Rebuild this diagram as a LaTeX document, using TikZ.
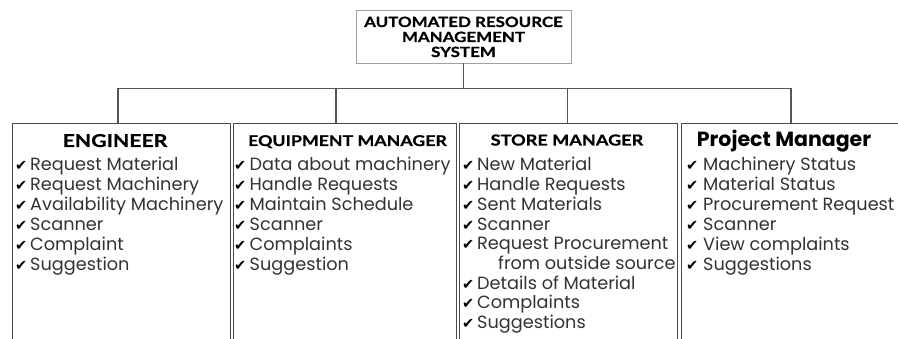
\documentclass[tikz,border=0pt]{standalone}
\usepackage{fontspec}
\setmainfont{Poppins}
\newfontfamily\headfont[FakeStretch=1.2, BoldFeatures={FakeBold=0.7}]{Lato}
\newfontfamily\symfont{DejaVu Sans}
\definecolor{linegray}{HTML}{555555}
\definecolor{boxgray}{HTML}{4A4A4A}
\definecolor{topgray}{HTML}{A0A0A0}
\definecolor{itemgray}{HTML}{333333}
\tikzset{
  panel/.style={draw=boxgray, line width=1.2pt, rectangle, anchor=north west, inner sep=0pt},
  topbox/.style={draw=topgray, line width=0.9pt, rectangle, minimum width=215pt, minimum height=53pt, inner sep=0pt},
  conn/.style={draw=linegray, line width=1.3pt},
  toptext/.style={anchor=base, inner sep=0pt, font=\headfont\bfseries\fontsize{14.1}{15}\selectfont},
  headtext/.style={anchor=base, inner sep=0pt, font=\headfont\bfseries\fontsize{#1}{17}\selectfont},
  pmtext/.style={anchor=base, inner sep=0pt, font=\bfseries\fontsize{20.5}{21}\selectfont},
  chk/.style={anchor=base west, inner sep=0pt, font=\symfont\fontsize{14.5}{15}\selectfont},
  item/.style={anchor=base west, inner sep=0pt, text=itemgray, font=\fontsize{17.7}{18}\selectfont},
}
\begin{document}
\begin{tikzpicture}[x=1pt,y=-1pt]
\clip (0,0) rectangle (898,339);
\useasboundingbox (0,0) rectangle (898,339);
\fill[white] (0,0) rectangle (898,339);
% top box
\node[topbox] (top) at (463.5,36.5) {};
\node[toptext] (t1) at (463.5,27) {AUTOMATED RESOURCE};
\node[toptext] (t2) at (463.5,42) {MANAGEMENT};
\node[toptext] (t3) at (463.5,57) {SYSTEM};
% panels
\node[panel, minimum width=217.5pt, minimum height=240pt] (b1) at (12,123) {};
\node[panel, minimum width=223pt, minimum height=240pt] (b2) at (232.5,123) {};
\node[panel, minimum width=218pt, minimum height=240pt] (b3) at (459,123) {};
\node[panel, minimum width=240pt, minimum height=240pt] (b4) at (681,123) {};
% connectors
\coordinate (j0) at (463.5,88.5);
\coordinate (j1) at (118,88.5);
\coordinate (j2) at (336,88.5);
\coordinate (j3) at (567.5,88.5);
\coordinate (j4) at (791,88.5);
\draw[conn] (top.south) -- (j0);
\draw[conn] (j1) -- (j4);
\draw[conn] (j1) -- (j1 |- b1.north);
\draw[conn] (j2) -- (j2 |- b2.north);
\draw[conn] (j3) -- (j3 |- b3.north);
\draw[conn] (j4) -- (j4 |- b4.north);
% headers
\node[headtext=17.7] (h1) at (115,147) {ENGINEER};
\node[headtext=14.8] (h2) at (347.5,146) {EQUIPMENT MANAGER};
\node[headtext=15.1] (h3) at (567,145.5) {STORE MANAGER};
\node[pmtext] (h4) at (784,146.5) {Project Manager};
% box 1 items
\foreach \t [count=\i from 0] in {Request Material,Request Machinery,Availability Machinery,Scanner,Complaint,Suggestion}{
  \node[chk] (c1\i) at (15,171+20*\i) {✔};
  \node[item] (i1\i) at (30,171+20*\i) {\t};
}
% box 2 items
\foreach \t [count=\i from 0] in {Data about machinery,Handle Requests,Maintain Schedule,Scanner,Complaints,Suggestion}{
  \node[chk] (c2\i) at (234,171+20*\i) {✔};
  \node[item] (i2\i) at (249.5,171+20*\i) {\t};
}
% box 3 items
\foreach \t/\y [count=\i from 0] in {New Material/171,Handle Requests/191,Sent Materials/210.5,Scanner/230.5,Request Procurement/250,Details of Material/289.5,Complaints/309,Suggestions/328.5}{
  \node[chk] (c3\i) at (462,\y) {✔};
  \node[item] (i3\i) at (477,\y) {\t};
}
\node[item] (i3x) at (498,269.5) {from outside source};
% box 4 items
\foreach \t [count=\i from 0] in {Machinery Status,Material Status,Procurement Request,Scanner,View complaints,Suggestions}{
  \node[chk] (c4\i) at (686,171+20*\i) {✔};
  \node[item] (i4\i) at (703,171+20*\i) {\t};
}
\end{tikzpicture}
\end{document}
